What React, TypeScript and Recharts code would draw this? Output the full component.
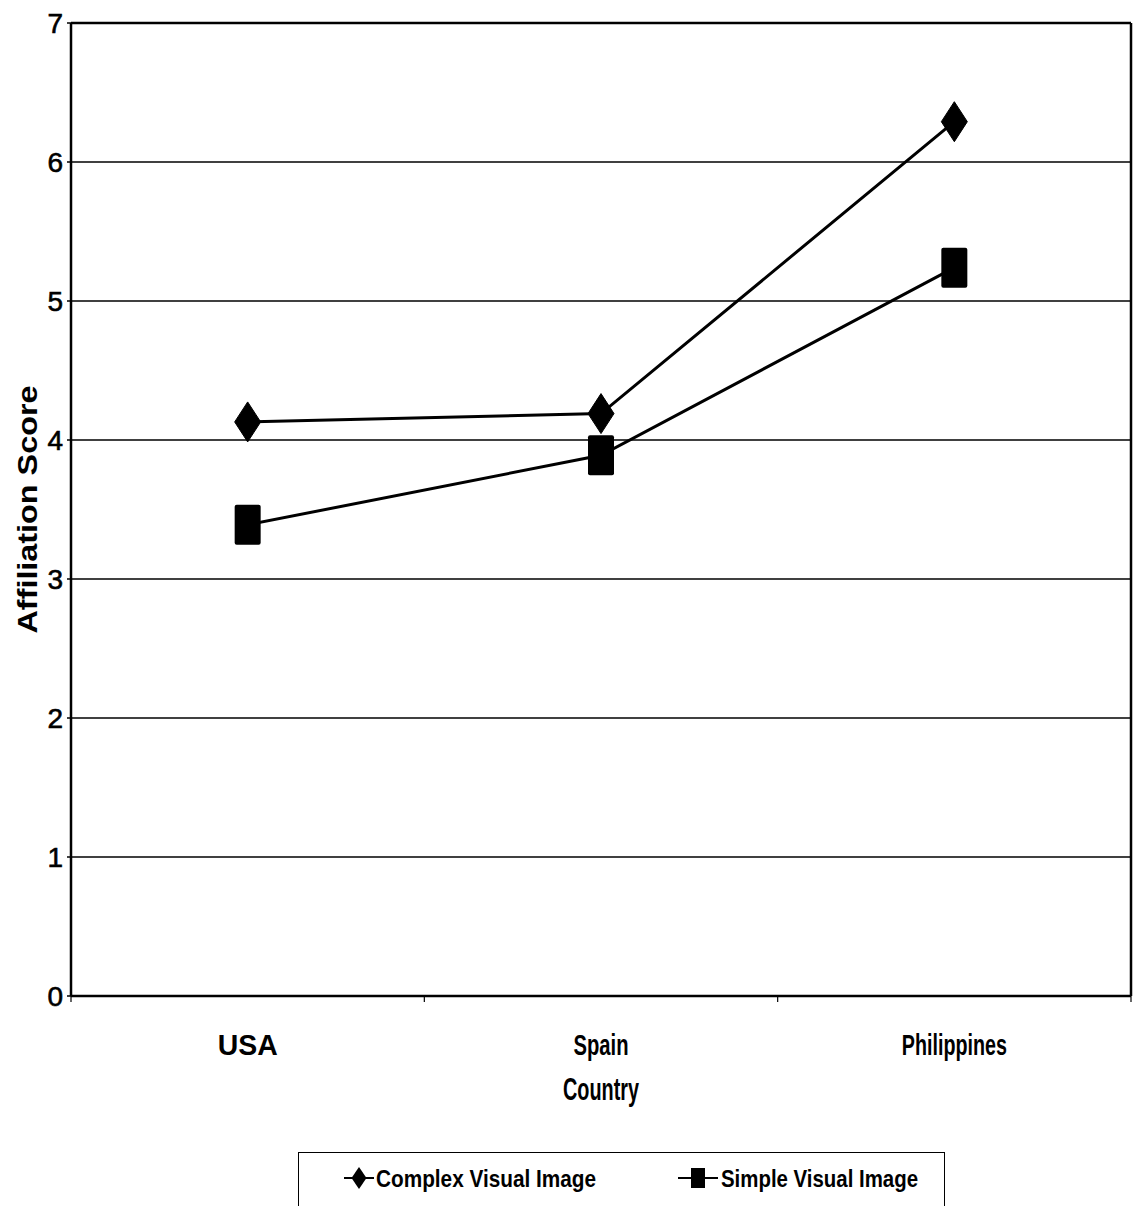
import React from 'react';
import { LineChart, Line, XAxis, YAxis, CartesianGrid, ReferenceLine, Label } from 'recharts';

const categories = ['USA', 'Spain', 'Philippines'];
const complexValues = [4.13, 4.19, 6.29];
const simpleValues = [3.39, 3.89, 5.24];
const yTicks = [0, 1, 2, 3, 4, 5, 6, 7];
const seriesNames = ['Complex Visual Image', 'Simple Visual Image'];

const data = categories.map((c, i) => ({
  pos: i + 0.5,
  country: c,
  complex: complexValues[i],
  simple: simpleValues[i],
}));

const xTickValues = [0, 0.5, 1, 1.5, 2, 2.5, 3];

const NARROW = '"Liberation Sans Narrow", "Liberation Sans", Arial, sans-serif';
const SANS = '"Liberation Sans", Arial, sans-serif';

const labelLengths: Record<string, number> = { USA: 60, Spain: 55, Philippines: 105 };

const XTick = (props: any) => {
  const { x, y, payload } = props;
  const v = payload.value;
  if (Number.isInteger(v)) {
    return <line x1={x} x2={x} y1={y} y2={y + 6} stroke="#000" strokeWidth={1.2} />;
  }
  const name = categories[Math.floor(v)];
  return (
    <text
      x={x}
      y={y + 59}
      textAnchor="middle"
      fontFamily={NARROW}
      fontWeight="bold"
      fontSize={30}
      fill="#000"
      textLength={labelLengths[name]}
      lengthAdjust="spacingAndGlyphs"
    >
      {name}
    </text>
  );
};

const YTick = (props: any) => {
  const { x, y, payload } = props;
  return (
    <text
      x={x}
      y={y}
      textAnchor="end"
      dominantBaseline="central"
      fontFamily={SANS}
      fontSize={28}
      fill="#000"
      stroke="#000"
      strokeWidth={0.6}
    >
      {payload.value}
    </text>
  );
};

const Diamond = (props: any) => {
  const { cx, cy } = props;
  if (cx == null || cy == null) return <g />;
  return (
    <path
      d={`M${cx},${cy - 20} L${cx + 13},${cy} L${cx},${cy + 20} L${cx - 13},${cy} Z`}
      fill="#000"
      stroke="#000"
      strokeLinejoin="round"
      strokeWidth={1}
    />
  );
};

const Square = (props: any) => {
  const { cx, cy } = props;
  if (cx == null || cy == null) return <g />;
  return <rect x={cx - 13} y={cy - 20} width={26} height={40} rx={2} fill="#000" />;
};

const LegendBox = () => (
  <div
    style={{
      position: 'absolute',
      left: 298,
      top: 1152,
      width: 647,
      height: 54,
      borderTop: '1.5px solid #000',
      borderLeft: '1.5px solid #000',
      borderRight: '1.5px solid #000',
      boxSizing: 'border-box',
      background: '#fff',
    }}
  >
    <svg width={644} height={52} style={{ display: 'block' }}>
      <line x1={45} x2={75} y1={25} y2={25} stroke="#000" strokeWidth={2} />
      <path d="M60,14 L67.5,25 L60,36 L52.5,25 Z" fill="#000" />
      <text
        x={77}
        y={34}
        fontFamily={NARROW}
        fontWeight="bold"
        fontSize={24}
        fill="#000"
        textLength={220}
        lengthAdjust="spacingAndGlyphs"
      >
        {seriesNames[0]}
      </text>
      <line x1={379} x2={419} y1={25} y2={25} stroke="#000" strokeWidth={2} />
      <rect x={392} y={15} width={14} height={20} fill="#000" />
      <text
        x={422}
        y={34}
        fontFamily={NARROW}
        fontWeight="bold"
        fontSize={24}
        fill="#000"
        textLength={197}
        lengthAdjust="spacingAndGlyphs"
      >
        {seriesNames[1]}
      </text>
    </svg>
  </div>
);

export default function App() {
  return (
    <div
      style={{
        position: 'absolute',
        top: 0,
        left: 0,
        width: 1133,
        height: 1206,
        overflow: 'hidden',
        background: '#fff',
      }}
    >
      <LineChart width={1133} height={1206} data={data} margin={{ top: 23, right: 2, left: 0, bottom: 0 }}>
        <CartesianGrid horizontal vertical={false} stroke="#000" strokeWidth={1.5} />
        <XAxis
          dataKey="pos"
          type="number"
          domain={[0, 3]}
          ticks={xTickValues}
          interval={0}
          height={210}
          tickSize={0}
          tickMargin={0}
          tickLine={false}
          axisLine={{ stroke: '#000', strokeWidth: 2.5 }}
          tick={<XTick />}
        >
          <Label
            content={(p: any) => {
              const vb = p.viewBox || {};
              return (
                <text
                  x={vb.x + vb.width / 2}
                  y={1100}
                  textAnchor="middle"
                  fontFamily={NARROW}
                  fontWeight="bold"
                  fontSize={31}
                  fill="#000"
                  textLength={76}
                  lengthAdjust="spacingAndGlyphs"
                >
                  Country
                </text>
              );
            }}
          />
        </XAxis>
        <YAxis
          width={71}
          domain={[0, 7]}
          ticks={yTicks}
          interval={0}
          tickSize={4}
          tickMargin={4}
          tickLine={{ stroke: '#000', strokeWidth: 1.5 }}
          axisLine={{ stroke: '#000', strokeWidth: 2.5 }}
          tick={<YTick />}
        >
          <Label
            content={(p: any) => {
              const vb = p.viewBox || {};
              const cy = vb.y + vb.height / 2;
              return (
                <text
                  x={27}
                  y={cy}
                  transform={`rotate(-90, 27, ${cy})`}
                  textAnchor="middle"
                  dominantBaseline="central"
                  fontFamily={SANS}
                  fontWeight="bold"
                  fontSize={28}
                  fill="#000"
                  textLength={248}
                  lengthAdjust="spacingAndGlyphs"
                >
                  Affiliation Score
                </text>
              );
            }}
          />
        </YAxis>
        <ReferenceLine y={7} stroke="#000" strokeWidth={2.5} />
        <ReferenceLine x={3} stroke="#000" strokeWidth={2.5} />
        <Line
          type="linear"
          dataKey="complex"
          name={seriesNames[0]}
          stroke="#000"
          strokeWidth={3}
          dot={<Diamond />}
          activeDot={false}
          isAnimationActive={false}
        />
        <Line
          type="linear"
          dataKey="simple"
          name={seriesNames[1]}
          stroke="#000"
          strokeWidth={3}
          dot={<Square />}
          activeDot={false}
          isAnimationActive={false}
        />
      </LineChart>
      <LegendBox />
    </div>
  );
}
